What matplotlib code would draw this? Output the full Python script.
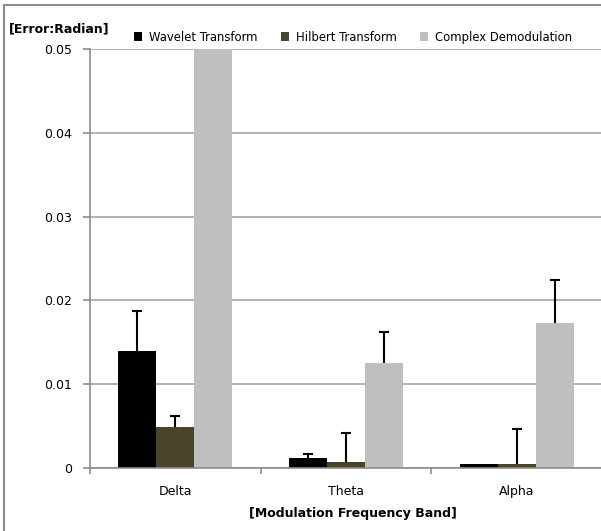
import numpy as np
import matplotlib.pyplot as plt
from matplotlib.lines import Line2D

bands = ["Delta", "Theta", "Alpha"]
series = ["Wavelet Transform", "Hilbert Transform", "Complex Demodulation"]

wavelet = [0.0140, 0.00123, 0.00052]
wavelet_err = [0.0047, 0.0005, 0.0]
hilbert = [0.0049, 0.00076, 0.00052]
hilbert_err = [0.00135, 0.00345, 0.0041]
complex_dm = [0.065, 0.0125, 0.0173]  # Delta runs off the top of the axis
complex_err = [0.010, 0.0037, 0.0051]

colors = ["#000000", "#4a452a", "#bfbfbf"]
grid_col = "#a6a6a6"
axis_col = "#8c8c8c"

plt.rcParams["font.family"] = "DejaVu Sans"

fig = plt.figure(figsize=(6.01, 5.31), dpi=100)
ax = fig.add_axes([90 / 601, 63 / 531, 512 / 601, 419 / 531])

x = np.arange(len(bands)) + 0.5
w = 0.2233
vals = [wavelet, hilbert, complex_dm]
errs = [wavelet_err, hilbert_err, complex_err]
for i, (v, e, c, name) in enumerate(zip(vals, errs, colors, series)):
    pos = x + (i - 1) * w
    ax.bar(pos, v, width=w, color=c, label=name, zorder=2)
    # plus-only error bars with a cap on top
    v = np.array(v)
    e = np.array(e)
    keep = e > 0
    ax.vlines(pos[keep], v[keep], v[keep] + e[keep], color="black", lw=1.5, zorder=3)
    ax.plot(pos[keep], v[keep] + e[keep], ls="none", marker="_", ms=7, mew=1.5,
            color="black", zorder=3)

ax.set_xlim(0, 3)
ax.set_ylim(0, 0.05)
ax.set_yticks([0, 0.01, 0.02, 0.03, 0.04, 0.05])
ax.set_yticklabels(["0", "0.01", "0.02", "0.03", "0.04", "0.05"])
ax.yaxis.grid(True, color=grid_col, linewidth=1.2, zorder=0)
ax.set_axisbelow(True)

ax.set_xticks([0, 1, 2, 3])
ax.set_xticklabels([])
ax.set_xticks(x, minor=True)
ax.set_xticklabels(bands, minor=True)
ax.tick_params(axis="x", which="major", length=4, color=axis_col, width=1.2, direction="out")
ax.tick_params(axis="x", which="minor", length=0, pad=12, labelsize=9)
ax.tick_params(axis="y", length=5, color=axis_col, width=1.2, pad=8, labelsize=9)

for s in ["top", "right"]:
    ax.spines[s].set_visible(False)
for s in ["left", "bottom"]:
    ax.spines[s].set_color(axis_col)
    ax.spines[s].set_linewidth(1.2)

fig.text(353 / 601, 1 - 514 / 531, "[Modulation Frequency Band]", ha="center",
         va="center", fontsize=9, fontweight="bold")
fig.text(9 / 601, 1 - 29 / 531, "[Error:Radian]", ha="left", va="center",
         fontsize=9, fontweight="bold")

handles, labels = ax.get_legend_handles_labels()
fig.legend(handles, labels, loc="center", bbox_to_anchor=(353 / 601, 1 - 37 / 531),
           ncol=3, frameon=False, fontsize=8.4, handlelength=0.7, handleheight=0.7,
           handletextpad=0.6, columnspacing=2.0, borderaxespad=0)

# outer chart border (left and top visible only)
fig.add_artist(Line2D([3.5 / 601, 3.5 / 601], [0, 1 - 4.5 / 531], color=axis_col, lw=1.5))
fig.add_artist(Line2D([3.5 / 601, 600 / 601], [1 - 4.5 / 531, 1 - 4.5 / 531], color=axis_col, lw=1.5))

fig.savefig("out.png", dpi=100)
